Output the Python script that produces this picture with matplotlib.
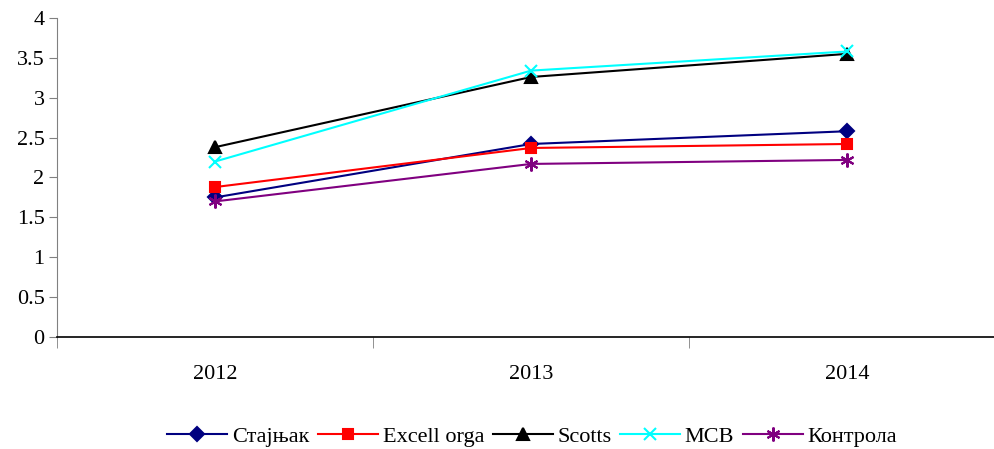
import matplotlib
matplotlib.use("Agg")
import matplotlib.pyplot as plt
import numpy as np

plt.rcParams['font.family'] = ['Liberation Serif', 'DejaVu Serif']

years = ["2012", "2013", "2014"]
stajnjak = [1.75, 2.42, 2.58]
excell_orga = [1.88, 2.37, 2.42]
scotts = [2.38, 3.26, 3.55]
mcb = [2.20, 3.34, 3.58]
kontrola = [1.70, 2.17, 2.22]

series = [
    ("Стајњак", stajnjak, "#000080", "D", 7),
    ("Excell orga", excell_orga, "#FF0000", "s", 7),
    ("Scotts", scotts, "#000000", "^", 8),
    ("MCB", mcb, "#00FFFF", "x", 9),
    ("Контрола", kontrola, "#800080", (6, 2, 0), 10),
]

fig = plt.figure(figsize=(9.95, 4.49), dpi=100)
ax = fig.add_axes([0.0573, 0.2494, 0.953, 0.7106])

x = np.arange(len(years))
for name, vals, color, marker, ms in series:
    ax.plot(x, vals, color=color, lw=1.5, marker=marker, ms=ms,
            mew=1.5, label=name)

ax.set_xlim(-0.5, len(years) - 0.5)
ax.set_ylim(0, 4)
ax.set_yticks(np.arange(0, 4.01, 0.5))
ax.set_yticklabels(["0", "0.5", "1", "1.5", "2", "2.5", "3", "3.5", "4"])
ax.set_xticks(x)
ax.set_xticklabels(years)
ax.set_xticks(np.arange(-0.5, len(years), 1), minor=True)

ax.tick_params(axis="x", which="major", length=0, pad=20, labelsize=16)
ax.tick_params(axis="x", which="minor", length=8, direction="out", color="#808080")
ax.tick_params(axis="y", length=6, direction="out", color="#808080", labelsize=16, pad=3)

for s in ("top", "right"):
    ax.spines[s].set_visible(False)
ax.spines["left"].set_color("#808080")
ax.spines["bottom"].set_color("#000000")
ax.spines["bottom"].set_linewidth(1.2)

fig.legend(loc="center", bbox_to_anchor=(0.535, 0.027), ncol=5, frameon=False,
           prop={"family": ["Liberation Serif", "DejaVu Serif"], "size": 16},
           handlelength=2.7, handletextpad=0.2, columnspacing=0.4,
           borderaxespad=0)

fig.savefig("out.png", dpi=100)
